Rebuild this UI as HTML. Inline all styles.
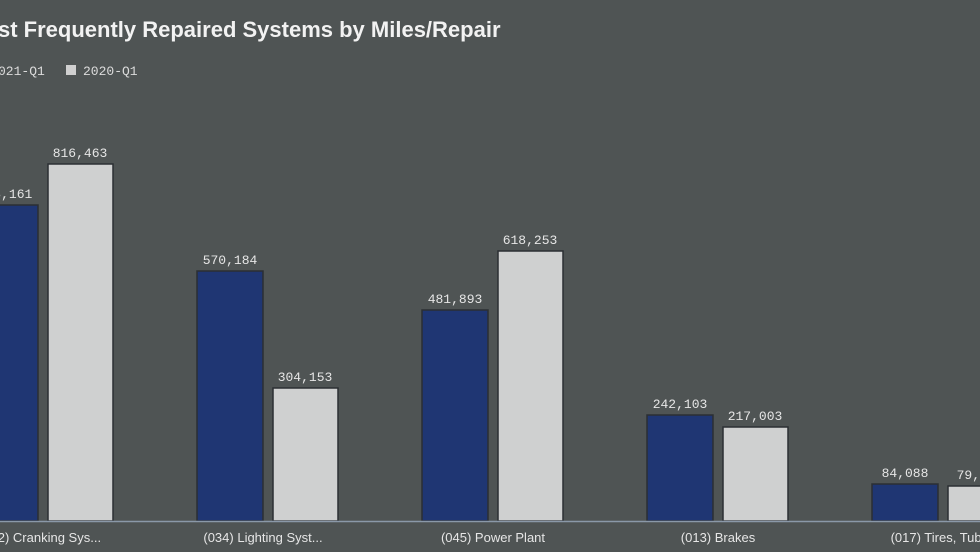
<!DOCTYPE html>
<html><head><style>
html,body{margin:0;padding:0;background:#4f5454;}
svg{display:block}
</style></head><body>
<svg width="980" height="552" xmlns="http://www.w3.org/2000/svg">
<rect width="980" height="552" fill="#4f5454"/>
<text x="-2" y="37" font-family="Liberation Sans, sans-serif" font-weight="bold" font-size="22" fill="#f2f2f2">st Frequently Repaired Systems by Miles/Repair</text>
<g font-family="Liberation Mono, monospace" font-size="13" fill="#dcdcdc">
<text x="-2" y="75">021-Q1</text>
<rect x="66" y="65" width="10" height="10" fill="#d0d0d0"/>
<text x="83" y="75">2020-Q1</text>
</g>
<g stroke="#2b2f33" stroke-width="1.5">
<rect x="-28" y="205" width="66" height="316" fill="#1f3673"/>
<rect x="48" y="164" width="65" height="357" fill="#cfd0d0"/>
<rect x="197" y="271" width="66" height="250" fill="#1f3673"/>
<rect x="273" y="388" width="65" height="133" fill="#cfd0d0"/>
<rect x="422" y="310" width="66" height="211" fill="#1f3673"/>
<rect x="498" y="251" width="65" height="270" fill="#cfd0d0"/>
<rect x="647" y="415" width="66" height="106" fill="#1f3673"/>
<rect x="723" y="427" width="65" height="94" fill="#cfd0d0"/>
<rect x="872" y="484" width="66" height="37" fill="#1f3673"/>
<rect x="948" y="486" width="65" height="35" fill="#cfd0d0"/>
</g>
<line x1="0" y1="521.5" x2="980" y2="521.5" stroke="#8a98a8" stroke-width="1.5"/>
<g font-family="Liberation Mono, monospace" font-size="13" fill="#e6e6e6" text-anchor="middle">
<text x="5" y="198">718,161</text>
<text x="80" y="157">816,463</text>
<text x="230" y="264">570,184</text>
<text x="305" y="381">304,153</text>
<text x="455" y="303">481,893</text>
<text x="530" y="244">618,253</text>
<text x="680" y="408">242,103</text>
<text x="755" y="420">217,003</text>
<text x="905" y="477">84,088</text>
<text x="980" y="479">79,111</text>
</g>
<g font-family="Liberation Sans, sans-serif" font-size="13" fill="#e6e6e6" text-anchor="middle">
<text x="40" y="542">(012) Cranking Sys...</text>
<text x="263" y="542">(034) Lighting Syst...</text>
<text x="493" y="542">(045) Power Plant</text>
<text x="718" y="542">(013) Brakes</text>
<text x="952" y="542">(017) Tires, Tubes, ...</text>
</g>
</svg>
</body></html>
